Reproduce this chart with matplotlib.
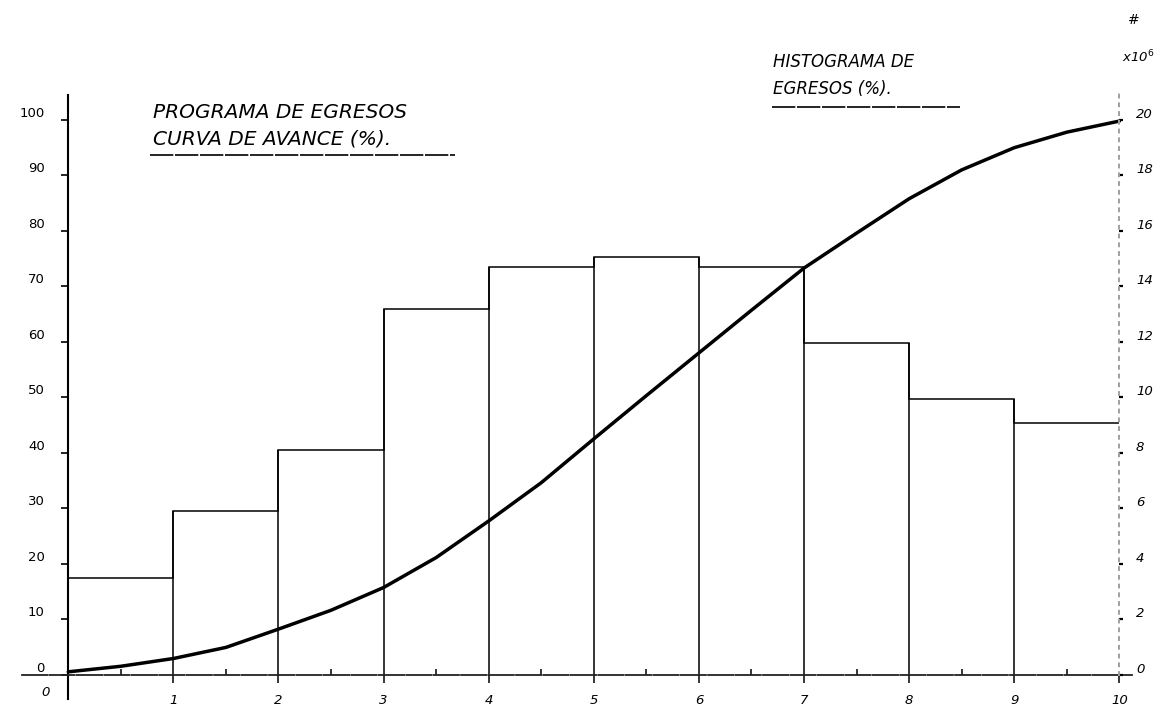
"""Programa de egresos: histogram of spending per period plus the cumulative progress curve."""

import numpy as np
import matplotlib
matplotlib.use("Agg")
import matplotlib.pyplot as plt
import matplotlib.transforms as mtransforms
from matplotlib.lines import Line2D
from matplotlib.ticker import MultipleLocator

W, H, DPI = 1166, 716, 100

# period boundaries and histogram heights (% on the left scale)
bar_edges = [0, 1, 2, 3, 4, 5, 6, 7, 8, 9, 10]
bar_pct = [17.5, 29.5, 40.5, 66.0, 73.5, 75.3, 73.5, 59.7, 49.6, 45.4]

# cumulative progress curve (%)
curve_t = [0, 0.5, 1, 1.5, 2, 2.5, 3, 3.5, 4, 4.5, 5,
           5.5, 6, 6.5, 7, 7.5, 8, 8.5, 9, 9.5, 10]
curve_pct = [0.5, 1.5, 2.9, 4.9, 8.2, 11.6, 15.7, 21.1, 27.7, 34.6, 42.5,
             50.3, 58.0, 65.7, 73.3, 79.6, 85.8, 91.0, 95.0, 97.8, 99.8]

left_ticks = [0, 10, 20, 30, 40, 50, 60, 70, 80, 90, 100]
right_ticks = [0, 2, 4, 6, 8, 10, 12, 14, 16, 18, 20]
x_ticks = [1, 2, 3, 4, 5, 6, 7, 8, 9, 10]

left_title = ["PROGRAMA DE EGRESOS", "CURVA DE AVANCE (%)."]
right_title = ["HISTOGRAMA DE", "EGRESOS (%)."]


def fx(px):
    return px / W


def fy(py):
    return 1 - py / H


def plot_chart(save_path="out.png"):
    plt.rcParams["font.family"] = ["DejaVu Sans"]
    fig = plt.figure(figsize=(W / DPI, H / DPI), dpi=DPI)
    ax = fig.add_axes([fx(22), 17 / H, 1110 / W, 604 / H])
    ax.set_xlim(-0.44, 10.12)
    ax.set_ylim(-4.4, 104.5)

    # histogram outline (no right edge on the last bar, like the drawing)
    edges = np.array(bar_edges, dtype=float)
    h = np.array(bar_pct)
    ax.stairs(h, edges, baseline=None, color="k", lw=1.1)
    prev = np.r_[0, h[:-1]]
    ax.vlines(edges[:-1], 0, np.maximum(h, prev), color="k", lw=1.1)

    # cumulative curve
    ax.plot(curve_t, curve_pct, color="k", lw=2.5, solid_capstyle="round",
            solid_joinstyle="round")

    for s in ("top", "right"):
        ax.spines[s].set_visible(False)
    ax.spines["left"].set_position(("data", 0))
    ax.spines["bottom"].set_position(("data", 0))
    ax.spines["left"].set_linewidth(1.5)
    ax.spines["bottom"].set_linewidth(1.3)
    ax.spines["bottom"].set_linestyle((0, (14, 1.2)))
    ax.spines["bottom"].set_color("#222222")

    ax.set_yticks(left_ticks)
    ax.tick_params(axis="y", direction="out", length=5, width=1.2, pad=12,
                   labelsize=9.5)
    ax.set_xticks(x_ticks)
    ax.set_xticklabels([str(v) for v in x_ticks], fontstyle="italic")
    ax.xaxis.set_minor_locator(MultipleLocator(1, offset=0.5))
    ax.tick_params(axis="x", which="major", direction="out", length=6,
                   width=1.1, pad=8, labelsize=9.5)
    ax.tick_params(axis="x", which="minor", direction="in", length=4, width=1.1)

    up_left = mtransforms.ScaledTranslation(0, 0.08, fig.dpi_scale_trans)
    for lab in ax.yaxis.get_majorticklabels():
        lab.set_transform(lab.get_transform() + up_left)
    ax.text(-0.22, -3.3, "0", ha="center", va="center", fontsize=9.5,
            fontstyle="italic", clip_on=False)

    # right scale, millions
    ax2 = ax.twinx()
    ax2.set_ylim(-0.88, 20.9)
    for s in ("left", "top", "bottom"):
        ax2.spines[s].set_visible(False)
    ax2.spines["right"].set_position(("data", 10))
    ax2.spines["right"].set_bounds(0, 21)
    ax2.spines["right"].set_color("#a0a0a0")
    ax2.spines["right"].set_linestyle((0, (1.5, 3)))
    ax2.spines["right"].set_linewidth(1.4)
    ax2.set_yticks(right_ticks)
    ax2.set_yticklabels([str(v) for v in right_ticks], fontstyle="italic")
    ax2.tick_params(axis="y", direction="out", length=3, width=1.6, pad=9,
                    labelsize=9.5)
    up_right = mtransforms.ScaledTranslation(0, 0.07, fig.dpi_scale_trans)
    for lab in ax2.yaxis.get_majorticklabels():
        lab.set_transform(lab.get_transform() + up_right)

    fig.text(fx(1133), fy(20), "#", ha="center", va="center", fontsize=10,
             fontstyle="italic")
    fig.text(fx(1138), fy(57), "x10$^{6}$", ha="center", va="center",
             fontsize=9.5, fontstyle="italic")

    # hand lettered titles with underline
    fig.text(fx(153), fy(113), left_title[0], ha="left", va="center",
             fontsize=14.5, fontstyle="italic")
    fig.text(fx(153), fy(139), left_title[1], ha="left", va="center",
             fontsize=14.5, fontstyle="italic")
    fig.add_artist(Line2D([fx(150), fx(455)], [fy(155), fy(155)], color="k",
                          lw=1.2, linestyle=(0, (14, 1))))

    fig.text(fx(773), fy(62), right_title[0], ha="left", va="center",
             fontsize=12, fontstyle="italic")
    fig.text(fx(773), fy(89), right_title[1], ha="left", va="center",
             fontsize=12, fontstyle="italic")
    fig.add_artist(Line2D([fx(772), fx(960)], [fy(107), fy(107)], color="k",
                          lw=1.2, linestyle=(0, (14, 1))))

    fig.savefig(save_path, dpi=DPI)
    print(f"Saved: {save_path}")


def main():
    plot_chart("out.png")


if __name__ == "__main__":
    main()
